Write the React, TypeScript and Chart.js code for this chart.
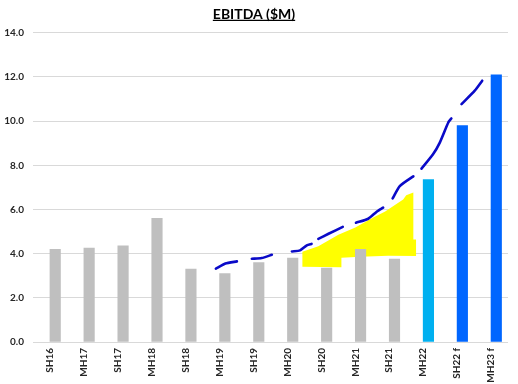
import { useEffect, useRef } from "react";
import { Chart, registerables } from "chart.js";

Chart.register(...registerables);

// ---- data ----
const categories = ["SH16", "MH17", "SH17", "MH18", "SH18", "MH19", "SH19", "MH20", "SH20", "MH21", "SH21", "MH22", "SH22 f", "MH23 f"];
const ebitda = [4.2, 4.25, 4.35, 5.6, 3.3, 3.1, 3.6, 3.8, 3.35, 4.2, 3.75, 7.35, 9.8, 12.1];
const yTicks = [0, 2, 4, 6, 8, 10, 12, 14];

// hand-drawn dashed trend line: [category index, $M]
const trendDash1 = [[4.89, 3.32], [5.17, 3.55], [5.51, 3.65]];
const trendDash2 = [[5.95, 3.77], [6.24, 3.8], [6.54, 3.95]];
const trendDash3 = [[7.13, 4.1], [7.37, 4.15], [7.57, 4.38], [7.71, 4.44]];
const trendDash4 = [[7.91, 4.67], [8.21, 4.9], [8.63, 5.21]];
const trendDash5 = [[9.02, 5.4], [9.38, 5.58], [9.63, 5.9], [9.82, 6.08]];
const trendDash6 = [[10.1, 6.5], [10.31, 7.06], [10.71, 7.5]];
const trendDash7 = [[10.95, 7.85], [11.29, 8.5], [11.49, 9.03], [11.74, 9.94], [11.83, 10.12]];
const trendDash8 = [[12.13, 10.77], [12.52, 11.38], [12.74, 11.83]];
const trendDashes = [trendDash1, trendDash2, trendDash3, trendDash4, trendDash5, trendDash6, trendDash7, trendDash8];

// yellow highlighter shape outline: category index / $M
const highlightX = [7.44, 7.44, 8.59, 8.59, 9.15, 9.97, 10.79, 10.79, 10.71, 10.71, 10.5, 10.41, 9.88, 9.53, 9.0, 8.5, 7.91];
const highlightY = [4.09, 3.41, 3.39, 3.82, 3.86, 3.91, 3.89, 4.64, 4.64, 6.77, 6.64, 6.45, 5.91, 5.64, 5.18, 4.86, 4.34];

// ---- styles ----
const GRAY = "#BFBFBF";
const LIGHT_BLUE = "#00B0F0";
const BLUE = "#0066FF";
const FONT = "Lato";

const titleUnderline = {
  id: "titleUnderline",
  afterDraw(chart: any) {
    const tb = chart.titleBlock;
    if (!tb) return;
    const ctx = chart.ctx;
    const size = 14;
    ctx.save();
    ctx.font = `bold ${size}px ${FONT}`;
    const text = chart.options.plugins.title.text;
    const w = ctx.measureText(text).width;
    const cx = (tb.left + tb.right) / 2;
    const cy = tb.top + 6 + (size * 1.2) / 2;
    ctx.strokeStyle = "#000";
    ctx.lineWidth = 1.3;
    ctx.beginPath();
    ctx.moveTo(cx - w / 2, cy + 6);
    ctx.lineTo(cx + w / 2, cy + 6);
    ctx.stroke();
    ctx.restore();
  },
};

export default function App() {
  const ref = useRef<HTMLCanvasElement>(null);

  useEffect(() => {
    document.body.style.margin = "0";
    const barColors = categories.map((_, i) => (i < 11 ? GRAY : i === 11 ? LIGHT_BLUE : BLUE));
    const trendData: any[] = [];
    trendDashes.forEach((d, k) => {
      if (k > 0) trendData.push({ x: (d[0][0] + trendDashes[k - 1][trendDashes[k - 1].length - 1][0]) / 2, y: null });
      d.forEach(([x, y]) => trendData.push({ x, y }));
    });
    const highlightData = highlightX.map((x, i) => ({ x, y: highlightY[i] }));

    const chart = new Chart(ref.current!, {
      type: "bar",
      data: {
        labels: categories,
        datasets: [
          {
            type: "line",
            label: "trend",
            data: trendData,
            xAxisID: "x2",
            borderColor: "#0A0AC8",
            borderWidth: 2.6,
            borderCapStyle: "round",
            borderJoinStyle: "round",
            pointRadius: 0,
            spanGaps: false,
            tension: 0.2,
            fill: false,
            order: 0,
          } as any,
          {
            type: "bar",
            label: "EBITDA",
            data: ebitda,
            backgroundColor: barColors,
            barThickness: 10.5,
            order: 1,
          },
          {
            type: "line",
            label: "highlight",
            data: highlightData,
            xAxisID: "x2",
            borderColor: "rgba(0,0,0,0)",
            borderWidth: 0,
            backgroundColor: "#FFFF00",
            pointRadius: 0,
            fill: "shape",
            tension: 0,
            order: 2,
          } as any,
        ],
      },
      options: {
        animation: false,
        responsive: false,
        devicePixelRatio: 1,
        layout: { padding: { left: 0, right: 10, top: 0, bottom: 0 } },
        plugins: {
          legend: { display: false },
          tooltip: { enabled: false },
          title: {
            display: true,
            text: "EBITDA ($M)",
            color: "#000",
            font: { family: FONT, size: 14, weight: "bold" },
            padding: { top: 6, bottom: 10 },
          },
        },
        scales: {
          x: {
            type: "category",
            offset: true,
            grid: { display: false, drawTicks: false },
            border: { display: false },
            ticks: {
              minRotation: 90,
              maxRotation: 90,
              autoSkip: false,
              padding: 6,
              color: "#262626",
              font: { family: FONT, size: 10, weight: "bold" },
            },
            afterFit: (s: any) => {
              s.height = 42;
            },
          },
          x2: {
            type: "linear",
            display: false,
            min: -0.5,
            max: 13.5,
            offset: false,
          },
          y: {
            min: 0,
            max: 14,
            grid: { color: "#D9D9D9", lineWidth: 1, drawTicks: false },
            border: { display: false },
            ticks: {
              padding: 9,
              color: "#262626",
              font: { family: FONT, size: 10, weight: "bold" },
              callback: (v: any) => Number(v).toFixed(1),
            },
            afterBuildTicks: (s: any) => {
              s.ticks = yTicks.map((v) => ({ value: v }));
            },
            afterFit: (s: any) => {
              s.width = 33;
            },
          },
        },
      } as any,
      plugins: [titleUnderline],
    });
    return () => chart.destroy();
  }, []);

  return (
    <div style={{ width: 518, height: 384, background: "#fff" }}>
      <canvas ref={ref} width={518} height={384} />
    </div>
  );
}
